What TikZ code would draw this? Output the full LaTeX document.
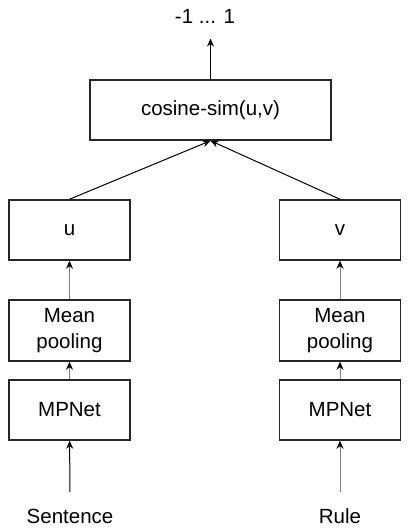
\documentclass[tikz,border=0pt]{standalone}
\usepackage{fontspec}
\setmainfont{Liberation Sans}
\usetikzlibrary{arrows.meta,positioning}
\begin{document}
\begin{tikzpicture}[x=1pt,y=1pt,font=\fontsize{20.5}{26}\selectfont,
  >={Stealth[length=8pt,width=7pt,black]}]
\tikzstyle{block}=[draw=black!85,line width=1.5pt,minimum height=60pt,align=center,inner sep=0pt]
\tikzstyle{small}=[block,minimum width=121pt]
\tikzstyle{link}=[->,line width=1pt]
\tikzstyle{greylink}=[link,draw=black!50]
\useasboundingbox (0,0) rectangle (411,531);

% output
\node (out) at (205,515) {-1 ... 1};
\node[block,minimum width=241pt] (cos) at (210.5,421) {cosine-sim(u,v)};

% left branch
\node[small] (u) at (69.5,301) {u};
\node[small,minimum height=61pt] (poolL) at (69.5,200.5) {Mean\\pooling};
\node[small] (netL) at (69.5,121) {MPNet};
\node (sent) at (70,15) {Sentence};

% right branch
\node[small] (v) at (340,301) {v};
\node[small,minimum height=61pt] (poolR) at (340,200.5) {Mean\\pooling};
\node[small] (netR) at (340,121) {MPNet};
\node (rule) at (340,15) {Rule};

\draw[link,shorten >=12pt] (cos.north) -- (cos.north |- out.south);
\draw[link] (u.north) -- (cos.south);
\draw[link] (v.north) -- (cos.south);
\draw[greylink] (poolL) -- (u);
\draw[greylink] (poolR) -- (v);
\draw[greylink] (netL) -- (poolL);
\draw[greylink] (netR) -- (poolR);
\draw[link,shorten <=13pt] (sent) -- (netL);
\draw[greylink,shorten <=13pt] (rule) -- (netR);
\end{tikzpicture}
\end{document}
